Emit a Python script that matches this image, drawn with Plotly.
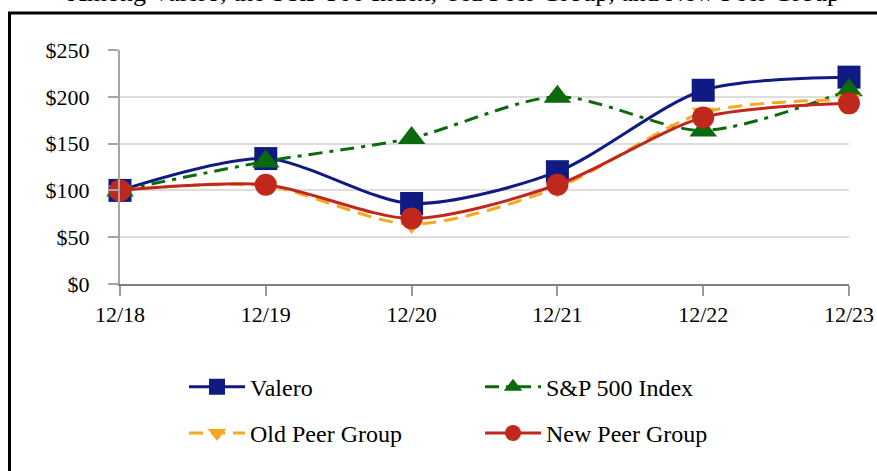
import plotly.graph_objects as go

years = ["12/18", "12/19", "12/20", "12/21", "12/22", "12/23"]
valero = [100, 134, 86, 120, 207, 221]
sp500 = [100, 131, 156, 200, 164, 207]
old_peer = [100, 105, 64, 103, 183, 197]
new_peer = [100, 106, 70, 106, 178, 193]
y_ticks = [0, 50, 100, 150, 200, 250]
y_labels = ["$" + str(v) for v in y_ticks]

FONT = "Liberation Serif"
xs = list(range(len(years)))

fig = go.Figure()

def add(name, vals, color, dash, symbol, size, legend, group):
    fig.add_trace(go.Scatter(
        x=xs, y=vals, name=name, mode="lines+markers",
        line=dict(color=color, width=3, dash=dash, shape="spline", smoothing=0.8),
        marker=dict(symbol=symbol, size=size, color=color),
        cliponaxis=False, legend=legend, legendgroup=group,
    ))

add("Valero", valero, "#0F1B82", "solid", "square", 23, "legend", "a")
add("S&P 500 Index", sp500, "#0B6A0B", "14px,7px,4px,7px", "triangle-up", 24, "legend2", "a2")
add("Old Peer Group", old_peer, "#F7A823", "14px,8px", "triangle-down", 20, "legend", "b")
add("New Peer Group", new_peer, "#C0281D", "solid", "circle", 22, "legend2", "b2")

legend_common = dict(
    xanchor="left", yanchor="top", orientation="v",
    tracegroupgap=12, traceorder="grouped",
    font=dict(size=24, family=FONT, color="black"),
    itemwidth=56, bgcolor="rgba(0,0,0,0)",
)

fig.update_layout(
    width=877, height=471,
    margin=dict(l=120, r=28, t=50, b=187, autoexpand=False),
    paper_bgcolor="white", plot_bgcolor="white",
    font=dict(family=FONT, size=22, color="black"),
    xaxis=dict(
        range=[0, 5], tickvals=xs, ticktext=years, showgrid=False,
        showline=True, linecolor="#808080", linewidth=2,
        ticks="outside", ticklen=10, tickcolor="#999999", tickwidth=2,
        zeroline=False, automargin=False,
        tickfont=dict(size=22, family=FONT, color="black"),
    ),
    yaxis=dict(
        range=[0, 250], tickvals=y_ticks, ticktext=y_labels,
        showgrid=True, gridcolor="#DDDDDD", gridwidth=2,
        showline=True, linecolor="#A6A6A6", linewidth=2,
        ticks="outside", ticklen=10, tickcolor="#A6A6A6", tickwidth=2,
        zeroline=False, automargin=False, ticklabelstandoff=14,
        tickfont=dict(size=22, family=FONT, color="black"),
    ),
    legend=dict(x=(184 - 120) / 729, y=-0.345, **legend_common),
    legend2=dict(x=(480 - 120) / 729, y=-0.345, **legend_common),
    showlegend=True,
)

fig.add_annotation(
    text="Among Valero, the S&P 500 Index, Old Peer Group, and New Peer Group",
    xref="paper", yref="paper", x=(454 - 120) / 729, y=1 + (50 - 9) / 234,
    xanchor="center", yanchor="bottom", showarrow=False,
    font=dict(size=26, family=FONT, color="black"),
)

# outer frame (right and bottom edges lie outside the visible page)
fig.add_shape(type="rect", xref="paper", yref="paper",
              x0=-(120 - 9.5) / 729, x1=1 + (28 + 20) / 729,
              y0=-(187 + 10) / 234, y1=1 + (50 - 13) / 234,
              line=dict(color="black", width=3), layer="below")

fig.write_html(
    "out.html",
    config={"displayModeBar": False},
    post_script="document.body.style.margin='0';document.body.style.overflow='hidden';",
)
